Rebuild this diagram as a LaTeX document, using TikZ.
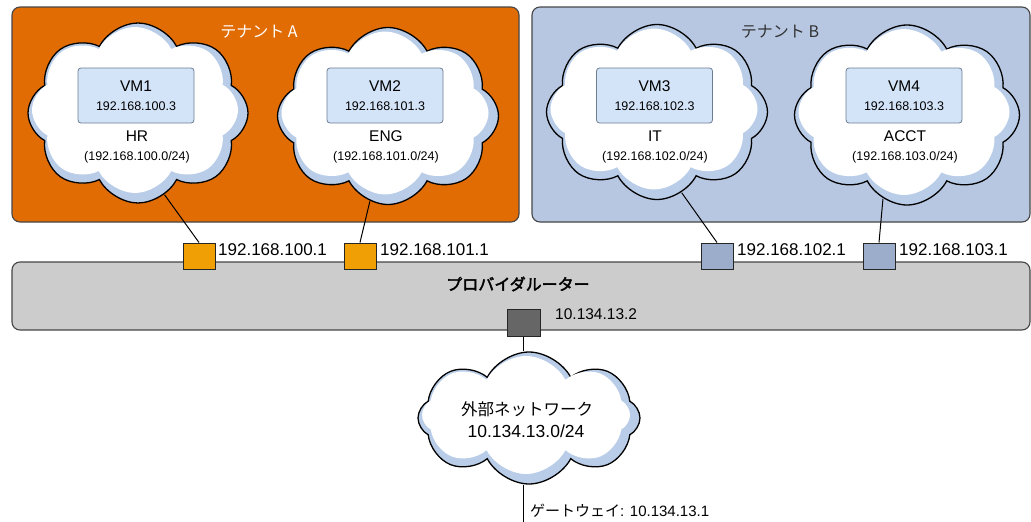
\documentclass[tikz,border=0pt]{standalone}
\usepackage{fontspec}
\setmainfont{Liberation Sans}
\newfontfamily\jp{Noto Sans CJK JP}[AutoFakeBold=2.5]
\usepackage{tikz}
\usetikzlibrary{shapes.symbols,positioning,calc}
\definecolor{tenantA}{RGB}{226,108,4}
\definecolor{tenantB}{RGB}{183,199,225}
\definecolor{cloudband}{RGB}{185,205,232}
\definecolor{vmfill}{RGB}{212,228,248}
\definecolor{vmedge}{RGB}{110,125,145}
\definecolor{portA}{RGB}{240,160,5}
\definecolor{portB}{RGB}{155,173,202}
\definecolor{routergray}{RGB}{204,204,204}
\definecolor{edgegray}{RGB}{70,70,70}

\begin{document}
\begin{tikzpicture}[x=1pt,y=-1pt,
  tenant/.style={draw=edgegray,line width=1.1pt,rounded corners=8pt,inner sep=0pt},
  netcloud/.style={cloud,cloud puffs=8,cloud puff arc=125,cloud ignores aspect,draw=black,line width=1.3pt,fill=cloudband,inner sep=0pt},
  cloudcore/.style={cloud,cloud puffs=8,cloud puff arc=125,cloud ignores aspect,fill=white,inner sep=0pt},
  vmbox/.style={draw=vmedge,fill=vmfill,rounded corners=3pt,line width=0.8pt,minimum width=116pt,minimum height=55pt,inner sep=0pt},
  vmtxt/.style={font=\fontsize{15.5}{17}\selectfont,inner sep=0pt},
  iptxt/.style={font=\fontsize{12.5}{14}\selectfont,inner sep=0pt},
  port/.style={draw=black!85,line width=1pt,minimum width=32pt,minimum height=26pt,inner sep=0pt},
  portlbl/.style={font=\fontsize{17}{18}\selectfont,anchor=west,inner sep=0pt},
  wire/.style={draw=black,line width=1pt}]
\fill[white] (0,0) rectangle (1031,522);
\useasboundingbox (0,0) rectangle (1031,522);

\node[tenant,fill=tenantA,minimum width=507pt,minimum height=215pt] (tA) at (265.5,114.5) {};
\node[tenant,fill=tenantB,minimum width=498pt,minimum height=215pt] (tB) at (781,114.5) {};
\node[font=\jp\fontsize{16}{16}\selectfont,text=white] (tAname) at (259,32) {テナント A};
\node[font=\jp\fontsize{16}{16}\selectfont,text=black!80] (tBname) at (780,32) {テナント B};

\node[netcloud,minimum width=220pt,minimum height=180pt] (hr) at (138,113) {};
\node[cloudcore,minimum width=206pt,minimum height=166pt] (hrin) at (135,110) {};
\node[vmbox] (vm1) at (136,95.5) {};
\node[vmtxt] (vm1n) at (136,86) {VM1};
\node[iptxt] (vm1ip) at (136,106) {192.168.100.3};
\node[vmtxt] (hrn) at (137,136) {HR};
\node[iptxt] (hrnet) at (137,157) {(192.168.100.0/24)};

\node[netcloud,minimum width=221pt,minimum height=177pt] (eng) at (388,116) {};
\node[cloudcore,minimum width=207pt,minimum height=163pt] (engin) at (385,113) {};
\node[vmbox] (vm2) at (385,95.5) {};
\node[vmtxt] (vm2n) at (385,86) {VM2};
\node[iptxt] (vm2ip) at (385,106) {192.168.101.3};
\node[vmtxt] (engn) at (386,136) {ENG};
\node[iptxt] (engnet) at (386,157) {(192.168.101.0/24)};

\node[netcloud,minimum width=221pt,minimum height=175pt] (it) at (657,112) {};
\node[cloudcore,minimum width=207pt,minimum height=161pt] (itin) at (654,109) {};
\node[vmbox] (vm3) at (654.5,95.5) {};
\node[vmtxt] (vm3n) at (654.5,86) {VM3};
\node[iptxt] (vm3ip) at (654.5,106) {192.168.102.3};
\node[vmtxt] (itn) at (655,136) {IT};
\node[iptxt] (itnet) at (655,157) {(192.168.102.0/24)};

\node[netcloud,minimum width=225pt,minimum height=180pt] (acct) at (907,115) {};
\node[cloudcore,minimum width=211pt,minimum height=166pt] (acctin) at (904,112) {};
\node[vmbox] (vm4) at (904,95.5) {};
\node[vmtxt] (vm4n) at (904,86) {VM4};
\node[iptxt] (vm4ip) at (904,106) {192.168.103.3};
\node[vmtxt] (acctn) at (905,136) {ACCT};
\node[iptxt] (acctnet) at (905,157) {(192.168.103.0/24)};

\node[tenant,fill=routergray,minimum width=1018pt,minimum height=68pt] (router) at (521,296) {};
\node[font=\jp\bfseries\fontsize{16}{16}\selectfont] (routername) at (518,284) {プロバイダルーター};

\node[port,fill=portA] (p1) at (199,256) {};
\node[port,fill=portA] (p2) at (360,256) {};
\node[port,fill=portB] (p3) at (717,256) {};
\node[port,fill=portB] (p4) at (879,256) {};
\node[port,fill=black!60,minimum width=33pt,minimum height=27pt] (pext) at (523.5,322.5) {};
\draw[wire] (hr.-72) -- (p1.north);
\draw[wire] (eng.-102) -- (p2.north);
\draw[wire] (it.-73) -- (p3.north);
\draw[wire] (acct.-106) -- (p4.north);
\node[portlbl] (p1lbl) at (218,250) {192.168.100.1};
\node[portlbl] (p2lbl) at (380,250) {192.168.101.1};
\node[portlbl] (p3lbl) at (737,250) {192.168.102.1};
\node[portlbl] (p4lbl) at (899,250) {192.168.103.1};
\node[portlbl,font=\fontsize{15.5}{17}\selectfont] (pextlbl) at (555,314) {10.134.13.2};

\node[netcloud,minimum width=222pt,minimum height=132pt] (ext) at (529,418) {};
\node[cloudcore,minimum width=208pt,minimum height=118pt] (extin) at (526,415) {};
\node[font=\jp\fontsize{16.5}{17}\selectfont] (extn) at (527,409) {外部ネットワーク};
\node[font=\fontsize{17.5}{19}\selectfont] (extnet) at (526,431) {10.134.13.0/24};
\draw[wire] (pext.south) -- (pext.south |- ext.north);
\coordinate (gwend) at (523.5,522);
\draw[wire] (ext.south -| pext) -- (gwend);
\node[portlbl,font=\fontsize{15}{17}\selectfont] (gwlbl) at (530,511) {{\jp ゲートウェイ}: 10.134.13.1};
\end{tikzpicture}
\end{document}
